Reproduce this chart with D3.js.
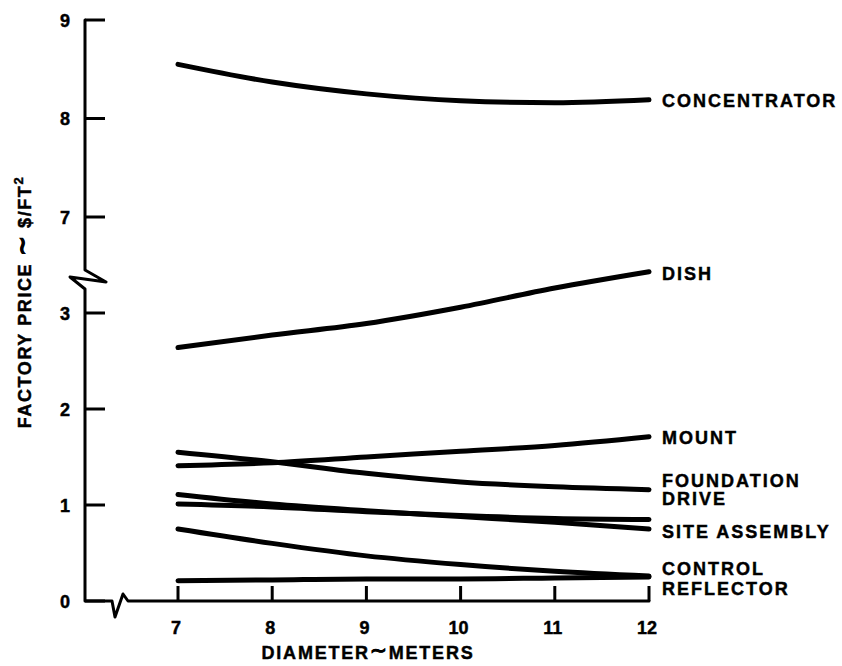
<!DOCTYPE html>
<html>
<head>
<meta charset="utf-8">
<script src="https://cdn.jsdelivr.net/npm/d3@7"></script>
<style>
  html, body { margin: 0; padding: 0; background: #fff; }
  svg { display: block; }
  text { font-family: "Liberation Sans", Arial, Helvetica, sans-serif; font-weight: bold; fill: #000; stroke: #000; stroke-width: 0.45px; }
</style>
</head>
<body>
<div id="chart"></div>
<script>
// ---- data ----
const diameters = [7, 8, 9, 10, 11, 12];
const xTickLabels = [7, 8, 9, 10, 11, 12];
const yTicksLower = [0, 1, 2, 3];
const yTicksUpper = [7, 8, 9];

const concentrator = [8.55, 8.37, 8.25, 8.18, 8.16, 8.19];
const dish         = [2.64, 2.77, 2.89, 3.06, 3.26, 3.43];
const mount        = [1.41, 1.44, 1.50, 1.56, 1.62, 1.71];
const foundation   = [1.55, 1.45, 1.33, 1.24, 1.19, 1.16];
const drive        = [1.01, 0.98, 0.93, 0.89, 0.86, 0.85];
const siteAssembly = [1.11, 1.01, 0.94, 0.88, 0.82, 0.75];
const control      = [0.75, 0.60, 0.47, 0.38, 0.31, 0.26];
const reflector    = [0.21, 0.22, 0.23, 0.23, 0.24, 0.25];

const seriesNames = ["CONCENTRATOR", "DISH", "MOUNT", "FOUNDATION", "DRIVE", "SITE ASSEMBLY", "CONTROL", "REFLECTOR"];
const seriesValues = [concentrator, dish, mount, foundation, drive, siteAssembly, control, reflector];
const seriesPanel = ["upper", "lower", "lower", "lower", "lower", "lower", "lower", "lower"];

const xTitleParts = ["DIAMETER", "\u223C", "METERS"];
const yTitleParts = ["FACTORY PRICE ", "\u223C", " $/FT", "2"];

// ---- layout ----
const W = 842, H = 666;
const axisX = 85, baseY = 601;
const svg = d3.select("#chart").append("svg").attr("width", W).attr("height", H);

const x = d3.scaleLinear().domain([7, 12]).range([178, 649]);
const yLow = d3.scaleLinear().domain([0, 3]).range([baseY, 313]);
const yUp = d3.scaleLinear().domain([7, 9]).range([217, 20]);
const yFor = p => p === "upper" ? yUp : yLow;

const ink = "#000";

// y axis (with break) and x axis (with break)
const axisPath = d3.path();
axisPath.moveTo(axisX, yUp(9));
axisPath.lineTo(axisX, 270);
axisPath.lineTo(106, 282);
axisPath.lineTo(70, 277);
axisPath.lineTo(axisX, 289);
axisPath.lineTo(axisX, baseY);
axisPath.lineTo(112, baseY);
axisPath.lineTo(115, 617);
axisPath.lineTo(123, 594);
axisPath.lineTo(128, baseY);
axisPath.lineTo(x(12), baseY);
svg.append("path").attr("d", axisPath.toString())
  .attr("fill", "none").attr("stroke", ink).attr("stroke-width", 3)
  .attr("stroke-linejoin", "round").attr("stroke-linecap", "round");

// y ticks
const yTickData = yTicksLower.map(v => ({v, y: yLow(v)})).concat(yTicksUpper.map(v => ({v, y: yUp(v)})));
svg.selectAll(".ytick").data(yTickData).enter().append("line")
  .attr("x1", axisX).attr("x2", axisX + 20)
  .attr("y1", d => d.y).attr("y2", d => d.y)
  .attr("stroke", ink).attr("stroke-width", 3);
svg.selectAll(".ylab").data(yTickData).enter().append("text")
  .attr("x", 65).attr("y", d => d.y + 6.5)
  .attr("text-anchor", "middle").attr("font-size", 18)
  .text(d => d.v);

// x ticks
svg.selectAll(".xtick").data(xTickLabels).enter().append("line")
  .attr("x1", d => x(d)).attr("x2", d => x(d))
  .attr("y1", baseY).attr("y2", baseY - 15)
  .attr("stroke", ink).attr("stroke-width", 3);
svg.selectAll(".xlab").data(xTickLabels).enter().append("text")
  .attr("x", d => x(d) - 2).attr("y", 634)
  .attr("text-anchor", "middle").attr("font-size", 18)
  .text(d => d);

// titles
const xt = svg.append("text").attr("x", 368).attr("y", 659)
  .attr("text-anchor", "middle").attr("font-size", 18)
  .attr("letter-spacing", 1.8);
xt.append("tspan").text(xTitleParts[0]);
xt.append("tspan").attr("font-size", 20).attr("dy", -2).text(xTitleParts[1]);
xt.append("tspan").attr("dy", 2).text(xTitleParts[2]);

const yt = svg.append("text")
  .attr("transform", "translate(31,302) rotate(-90)")
  .attr("text-anchor", "middle").attr("font-size", 18)
  .attr("letter-spacing", 1.6);
yt.append("tspan").text(yTitleParts[0]);
yt.append("tspan").attr("font-size", 24).attr("dy", -1).text(yTitleParts[1]);
yt.append("tspan").attr("dy", 1).text(yTitleParts[2]);
yt.append("tspan").attr("font-size", 13).attr("dy", -8).text(yTitleParts[3]);

// series lines
const line = d3.line().curve(d3.curveMonotoneX);
seriesValues.forEach((vals, i) => {
  const ys = yFor(seriesPanel[i]);
  svg.append("path")
    .attr("d", line(diameters.map((d, j) => [x(d), ys(vals[j])])))
    .attr("fill", "none").attr("stroke", ink).attr("stroke-width", 5)
    .attr("stroke-linecap", "round").attr("stroke-linejoin", "round");
});

// series labels (pixel nudges so the stacked labels do not collide)
const labelNudge = [7, 8, 7, -3, -14, 9, -1, 18];
seriesNames.forEach((name, i) => {
  const ys = yFor(seriesPanel[i]);
  const vals = seriesValues[i];
  svg.append("text")
    .attr("x", 662)
    .attr("y", ys(vals[vals.length - 1]) + labelNudge[i])
    .attr("font-size", 18).attr("letter-spacing", 2)
    .text(name);
});
</script>
</body>
</html>
